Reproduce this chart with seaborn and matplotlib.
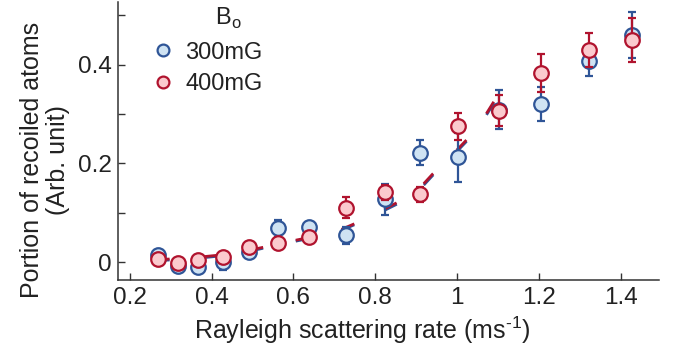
import numpy as np
import pandas as pd
import matplotlib
matplotlib.use("Agg")
import matplotlib.pyplot as plt
import seaborn as sns
from matplotlib.lines import Line2D

sns.set_theme(style="ticks")
plt.rcParams['font.family'] = ['Liberation Sans', 'DejaVu Sans']
plt.rcParams['mathtext.fontset'] = 'custom'
plt.rcParams['mathtext.rm'] = 'Liberation Sans'
plt.rcParams['lines.scale_dashes'] = False

# ---- data ----
rate = [0.268, 0.318, 0.367, 0.429, 0.492, 0.563, 0.639, 0.728, 0.823,
        0.909, 1.002, 1.104, 1.206, 1.322, 1.427]
y300 = [0.014, -0.009, -0.011, 0.001, 0.020, 0.068, 0.070, 0.054, 0.127,
        0.222, 0.212, 0.309, 0.320, 0.408, 0.460]
e300 = [0.006, 0.006, 0.007, 0.018, 0.008, 0.018, 0.012, 0.018, 0.031,
        0.025, 0.049, 0.040, 0.034, 0.030, 0.047]
y400 = [0.006, -0.003, 0.005, 0.010, 0.030, 0.039, 0.051, 0.110, 0.141,
        0.137, 0.275, 0.307, 0.383, 0.430, 0.450]
e400 = [0.005, 0.006, 0.010, 0.007, 0.010, 0.006, 0.006, 0.021, 0.016,
        0.016, 0.027, 0.032, 0.038, 0.034, 0.044]

fit_x = [0.27, 0.32, 0.37, 0.43, 0.51, 0.61, 0.70, 0.77, 0.85, 0.88,
         0.92, 0.94, 0.98, 1.04, 1.06, 1.09, 1.105]
fit_y300 = [0.003, 0.005, 0.008, 0.013, 0.025, 0.043, 0.058, 0.083, 0.116, 0.129,
            0.157, 0.175, 0.207, 0.259, 0.282, 0.322, 0.342]
fit_y400 = [0.005, 0.007, 0.010, 0.015, 0.027, 0.045, 0.060, 0.085, 0.119, 0.132,
            0.160, 0.178, 0.210, 0.262, 0.285, 0.325, 0.345]

series = ["300mG", "400mG"]
edge_colors = {"300mG": "#2F5597", "400mG": "#B0132E"}
face_colors = {"300mG": "#CFE3F3", "400mG": "#FBCACE"}

xticks = [0.2, 0.4, 0.6, 0.8, 1.0, 1.2, 1.4]
xticklabels = ["0.2", "0.4", "0.6", "0.8", "1", "1.2", "1.4"]
yticks = [0, 0.1, 0.2, 0.3, 0.4, 0.5]
yticklabels = ["0", "", "0.2", "", "0.4", ""]

fit = pd.DataFrame({
    "x": fit_x * 2,
    "y": fit_y300 + fit_y400,
    "B": ["300mG"] * len(fit_x) + ["400mG"] * len(fit_x),
})

fig = plt.figure(figsize=(6.86, 3.52), dpi=100)
ax = fig.add_axes([0.172, 0.2045, 0.7886, 0.7895])

# fit lines
for s in series:
    d = fit[fit.B == s]
    sns.lineplot(data=d, x="x", y="y", ax=ax, color=edge_colors[s], lw=2.0,
                 linestyle=(2, (10, 24)), zorder=2, legend=False)

# error bars and points
for s, yy, ee in [("300mG", y300, e300), ("400mG", y400, e400)]:
    z = 3 if s == "300mG" else 5
    ax.errorbar(rate, yy, yerr=ee, fmt="none", ecolor=edge_colors[s],
                elinewidth=1.6, capsize=3, capthick=1.6, zorder=z)
    sns.scatterplot(x=rate, y=yy, ax=ax, s=110, color=face_colors[s],
                    edgecolor=edge_colors[s], linewidth=1.6, zorder=z + 1,
                    legend=False)

ax.set_xlim(0.171, 1.494)
ax.set_ylim(-0.0365, 0.527)
ax.set_xticks(xticks)
ax.set_xticklabels(xticklabels)
ax.set_yticks(yticks)
ax.set_yticklabels(yticklabels)
ax.tick_params(direction="in", length=5, width=1, colors="#333333",
               labelcolor="#222222", labelsize=17.5)
ax.tick_params(axis="x", pad=5)
ax.tick_params(axis="y", pad=4.5)
for side in ["top", "right"]:
    ax.spines[side].set_visible(False)
for side in ["left", "bottom"]:
    ax.spines[side].set_color("#333333")
    ax.spines[side].set_linewidth(1.1)

ax.set_xlabel("Rayleigh scattering rate (ms$^{\\text{-1}}$)",
              fontsize=18, color="#222222")
ax.set_ylabel("Portion of recoiled atoms\n(Arb. unit)", fontsize=18,
              color="#222222", linespacing=1.12)
ax.xaxis.set_label_coords(0.451, -0.125)
ax.yaxis.set_label_coords(-0.088, 0.432)

handles = [Line2D([], [], marker="o", ls="none", markersize=8.5,
                  markerfacecolor=face_colors[s], markeredgecolor=edge_colors[s],
                  markeredgewidth=1.6) for s in series]
leg = ax.legend(handles, series, frameon=False,
                loc="upper left", bbox_to_anchor=(0.0395, 0.892), fontsize=17,
                handletextpad=0.35, labelspacing=0.4,
                handlelength=1.2, borderaxespad=0)
for t in leg.get_texts():
    t.set_color("#222222")
ax.text(0.2035, 0.917, "B$_{\\mathregular{o}}$", transform=ax.transAxes,
        fontsize=17, color="#222222", ha="center", va="baseline")

fig.savefig("out.png", dpi=100)
